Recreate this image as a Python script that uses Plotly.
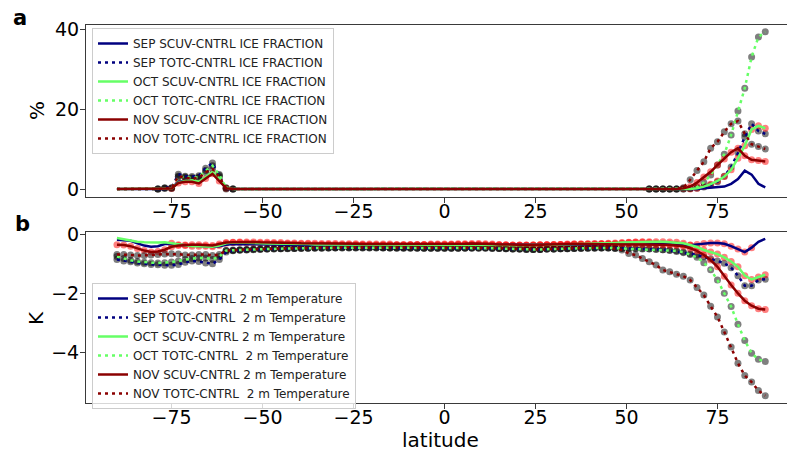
import plotly.graph_objects as go

# ---------------- data ----------------
# latitude grid (96 rows, 1.875 deg spacing)
LAT = [-90 + 1.875 * k for k in range(96)]
XTICKS = [-75, -50, -25, 0, 25, 50, 75]
ICE_TICKS = [0, 20, 40]
T_TICKS = [0, -2, -4]

# ---- ICE FRACTION (%) : south rows k0..k16, zeros k17..k82, north rows k83..k95
ICE_ZERO_MID = [0.0] * 66
ICE_SEP_SCUV_S = [0, 0, 0, 0, 0, 0, 0, 0, 0.2, 1.8, 2.0, 2.0, 1.6, 2.8, 4.0, 2.2, 0.3]
ICE_SEP_SCUV_N = [0, 0, 0, 0.2, 0.3, 0.4, 0.6, 1.3, 2.5, 4.6, 3.6, 1.3, 0.4]
ICE_SEP_TOTC_S = [0, 0, 0, 0, 0, 0, 0, 0.3, 0.3, 3.7, 3.2, 3.1, 3.3, 5.2, 6.5, 3.4, 0]
ICE_SEP_TOTC_N = [0, 0.1, 0.2, 0.5, 1.0, 1.8, 3.2, 5.5, 9.0, 13.0, 16.3, 14.5, 13.8]
ICE_OCT_SCUV_S = [0, 0, 0, 0, 0, 0, 0, 0, 0.1, 1.6, 2.0, 2.2, 1.8, 3.0, 4.3, 2.6, 0.4]
ICE_OCT_SCUV_N = [0, 0, 0.2, 0.6, 1.2, 2.0, 3.1, 4.8, 7.7, 10.8, 14.9, 15.8, 15.2]
ICE_OCT_TOTC_S = [0, 0, 0, 0, 0, 0, 0, 0.2, 0.2, 3.0, 3.0, 2.8, 3.0, 4.6, 5.8, 3.6, 0.3]
ICE_OCT_TOTC_N = [0, 0.1, 0.5, 1.6, 3.5, 6.0, 8.7, 13.5, 19.5, 25.2, 33.0, 38.0, 39.3]
ICE_NOV_SCUV_S = [0, 0, 0, 0, 0, 0, 0, 0, 0.1, 1.5, 1.8, 1.8, 1.4, 2.6, 3.8, 2.0, 0.2]
ICE_NOV_SCUV_N = [0.2, 0.6, 1.6, 3.0, 4.3, 6.0, 7.5, 9.2, 10.2, 8.3, 7.3, 7.1, 6.9]
ICE_NOV_TOTC_S = [0, 0, 0, 0, 0, 0, 0, 0.2, 0.2, 3.2, 2.8, 2.6, 2.8, 4.2, 5.0, 3.0, 0.2]
ICE_NOV_TOTC_N = [0.3, 2.3, 4.6, 6.8, 10.2, 11.8, 14.3, 16.3, 17.0, 13.8, 11.2, 10.6, 10.0]

# ---- 2 m Temperature (K): south k0..k16, mid k17..k71, north k72..k95
T_SEP_SCUV_S = [-0.18, -0.2, -0.22, -0.3, -0.38, -0.42, -0.4, -0.33, -0.32, -0.35, -0.36, -0.37, -0.38, -0.4, -0.42, -0.4, -0.35]
T_SEP_SCUV_M = [-0.33, -0.33, -0.33, -0.34, -0.34, -0.34, -0.35, -0.35, -0.35, -0.36,
                -0.36, -0.36, -0.36, -0.37, -0.37, -0.37, -0.37, -0.37, -0.37, -0.37,
                -0.37, -0.37, -0.37, -0.37, -0.37, -0.37, -0.36, -0.36, -0.36, -0.36,
                -0.36, -0.36, -0.35, -0.35, -0.35, -0.35, -0.36, -0.36, -0.37, -0.37,
                -0.37, -0.37, -0.37, -0.37, -0.37, -0.36, -0.36, -0.36, -0.35, -0.35,
                -0.35, -0.34, -0.34, -0.34, -0.33]
T_SEP_SCUV_N = [-0.33, -0.32, -0.3, -0.28, -0.27, -0.27, -0.28, -0.3, -0.32, -0.33, -0.34, -0.36,
                -0.37, -0.34, -0.31, -0.29, -0.29, -0.32, -0.4, -0.5, -0.6, -0.45, -0.25, -0.15]

T_SEP_TOTC_S = [-0.85, -0.9, -0.93, -0.97, -1.0, -1.02, -1.03, -1.05, -1.05, -1.02, -0.95, -0.9, -0.92, -0.97, -1.0, -0.85, -0.6]
T_SEP_TOTC_M = [-0.56, -0.54, -0.53, -0.52, -0.51, -0.5, -0.5, -0.49, -0.49, -0.48,
                -0.48, -0.47, -0.47, -0.47, -0.46, -0.46, -0.46, -0.46, -0.46, -0.46,
                -0.46, -0.46, -0.46, -0.46, -0.47, -0.47, -0.47, -0.47, -0.47, -0.47,
                -0.47, -0.47, -0.47, -0.47, -0.47, -0.47, -0.47, -0.47, -0.48, -0.48,
                -0.49, -0.5, -0.5, -0.51, -0.51, -0.51, -0.5, -0.5, -0.49, -0.49,
                -0.48, -0.48, -0.47, -0.47, -0.46]
T_SEP_TOTC_N = [-0.46, -0.46, -0.47, -0.47, -0.48, -0.48, -0.49, -0.5, -0.52, -0.55, -0.58, -0.62,
                -0.66, -0.7, -0.76, -0.83, -0.9, -0.98, -1.13, -1.4, -1.74, -1.74, -1.55, -1.52]

T_OCT_SCUV_S = [-0.12, -0.17, -0.22, -0.25, -0.27, -0.28, -0.28, -0.27, -0.3, -0.35, -0.38, -0.4, -0.4, -0.4, -0.42, -0.38, -0.3]
T_OCT_SCUV_M = [-0.28, -0.28, -0.29, -0.3, -0.3, -0.31, -0.31, -0.32, -0.32, -0.33,
                -0.33, -0.33, -0.34, -0.34, -0.34, -0.35, -0.35, -0.35, -0.35, -0.35,
                -0.36, -0.36, -0.36, -0.36, -0.36, -0.36, -0.36, -0.35, -0.35, -0.35,
                -0.35, -0.35, -0.35, -0.34, -0.34, -0.34, -0.34, -0.35, -0.35, -0.36,
                -0.36, -0.37, -0.37, -0.37, -0.36, -0.36, -0.35, -0.35, -0.34, -0.34,
                -0.33, -0.33, -0.32, -0.31, -0.31]
T_OCT_SCUV_N = [-0.3, -0.29, -0.28, -0.27, -0.26, -0.25, -0.25, -0.25, -0.25, -0.26, -0.27, -0.3,
                -0.36, -0.43, -0.53, -0.6, -0.67, -0.78, -0.92, -1.1, -1.4, -1.53, -1.45, -1.37]

T_OCT_TOTC_S = [-0.75, -0.82, -0.88, -0.92, -0.95, -0.96, -0.97, -0.96, -0.94, -0.9, -0.85, -0.82, -0.8, -0.8, -0.85, -0.75, -0.55]
T_OCT_TOTC_M = [-0.55, -0.53, -0.52, -0.51, -0.5, -0.5, -0.49, -0.49, -0.48, -0.48,
                -0.47, -0.47, -0.46, -0.46, -0.46, -0.45, -0.45, -0.45, -0.45, -0.45,
                -0.45, -0.45, -0.45, -0.46, -0.46, -0.46, -0.46, -0.46, -0.47, -0.47,
                -0.47, -0.47, -0.47, -0.47, -0.46, -0.46, -0.46, -0.46, -0.47, -0.48,
                -0.49, -0.5, -0.5, -0.51, -0.51, -0.51, -0.5, -0.5, -0.49, -0.49,
                -0.48, -0.47, -0.47, -0.46, -0.46]
T_OCT_TOTC_N = [-0.46, -0.47, -0.48, -0.48, -0.49, -0.5, -0.5, -0.51, -0.52, -0.53, -0.56, -0.6,
                -0.68, -0.78, -0.96, -1.2, -1.55, -2.0, -2.45, -3.05, -3.6, -4.03, -4.24, -4.31]

T_NOV_SCUV_S = [-0.35, -0.36, -0.4, -0.48, -0.55, -0.6, -0.58, -0.52, -0.42, -0.38, -0.36, -0.35, -0.35, -0.36, -0.38, -0.33, -0.28]
T_NOV_SCUV_M = [-0.27, -0.26, -0.26, -0.26, -0.27, -0.27, -0.28, -0.28, -0.29, -0.29,
                -0.3, -0.3, -0.3, -0.31, -0.31, -0.31, -0.32, -0.32, -0.32, -0.33,
                -0.33, -0.33, -0.33, -0.33, -0.34, -0.34, -0.34, -0.34, -0.34, -0.33,
                -0.33, -0.33, -0.33, -0.32, -0.32, -0.31, -0.31, -0.32, -0.33, -0.34,
                -0.35, -0.36, -0.36, -0.36, -0.36, -0.35, -0.35, -0.34, -0.34, -0.33,
                -0.33, -0.33, -0.33, -0.33, -0.33]
T_NOV_SCUV_N = [-0.33, -0.33, -0.33, -0.33, -0.33, -0.34, -0.34, -0.35, -0.35, -0.36, -0.37, -0.4,
                -0.47, -0.56, -0.7, -0.87, -1.1, -1.42, -1.72, -2.0, -2.25, -2.42, -2.52, -2.55]

T_NOV_TOTC_S = [-0.68, -0.68, -0.7, -0.72, -0.72, -0.7, -0.68, -0.67, -0.66, -0.67, -0.7, -0.7, -0.68, -0.68, -0.72, -0.68, -0.55]
T_NOV_TOTC_M = [-0.53, -0.52, -0.51, -0.5, -0.5, -0.49, -0.48, -0.48, -0.47, -0.47,
                -0.46, -0.46, -0.45, -0.45, -0.45, -0.45, -0.44, -0.44, -0.44, -0.44,
                -0.44, -0.44, -0.45, -0.45, -0.45, -0.45, -0.45, -0.46, -0.46, -0.46,
                -0.46, -0.46, -0.46, -0.46, -0.46, -0.45, -0.45, -0.45, -0.46, -0.47,
                -0.48, -0.49, -0.5, -0.5, -0.51, -0.51, -0.5, -0.5, -0.49, -0.48,
                -0.47, -0.46, -0.45, -0.45, -0.45]
T_NOV_TOTC_N = [-0.45, -0.48, -0.53, -0.65, -0.7, -0.82, -0.93, -1.04, -1.21, -1.27, -1.35, -1.42,
                -1.55, -1.8, -2.06, -2.44, -2.8, -3.31, -3.82, -4.37, -4.79, -5.01, -5.3, -5.47]

# rows flagged with markers (significance) per series
ALL_ROWS = list(range(96))
ICE_TOTC_SIG = list(range(6, 18)) + list(range(78, 96))
ICE_NOV_SCUV_SIG = list(range(8, 17)) + list(range(83, 96))
ICE_OCT_SCUV_SIG = list(range(84, 96))
T_OCT_SCUV_SIG = list(range(8, 96))
T_SEP_SCUV_SIG = list(range(30, 94))

# ---------------- build ----------------
ice = {
    "SEP SCUV": ICE_SEP_SCUV_S + ICE_ZERO_MID + ICE_SEP_SCUV_N,
    "SEP TOTC": ICE_SEP_TOTC_S + ICE_ZERO_MID + ICE_SEP_TOTC_N,
    "OCT SCUV": ICE_OCT_SCUV_S + ICE_ZERO_MID + ICE_OCT_SCUV_N,
    "OCT TOTC": ICE_OCT_TOTC_S + ICE_ZERO_MID + ICE_OCT_TOTC_N,
    "NOV SCUV": ICE_NOV_SCUV_S + ICE_ZERO_MID + ICE_NOV_SCUV_N,
    "NOV TOTC": ICE_NOV_TOTC_S + ICE_ZERO_MID + ICE_NOV_TOTC_N,
}
tmp = {
    "SEP SCUV": T_SEP_SCUV_S + T_SEP_SCUV_M + T_SEP_SCUV_N,
    "SEP TOTC": T_SEP_TOTC_S + T_SEP_TOTC_M + T_SEP_TOTC_N,
    "OCT SCUV": T_OCT_SCUV_S + T_OCT_SCUV_M + T_OCT_SCUV_N,
    "OCT TOTC": T_OCT_TOTC_S + T_OCT_TOTC_M + T_OCT_TOTC_N,
    "NOV SCUV": T_NOV_SCUV_S + T_NOV_SCUV_M + T_NOV_SCUV_N,
    "NOV TOTC": T_NOV_TOTC_S + T_NOV_TOTC_M + T_NOV_TOTC_N,
}
for d in (ice, tmp):
    for k, v in d.items():
        assert len(v) == 96, (k, len(v))

COLORS = {"SEP": "#000080", "OCT": "#66ff66", "NOV": "#8b0000"}
GREY = "rgba(0,0,0,0.5)"
RED = "rgba(255,0,0,0.5)"

ice_sig = {
    "SEP SCUV": [], "SEP TOTC": ICE_TOTC_SIG, "OCT SCUV": ICE_OCT_SCUV_SIG,
    "OCT TOTC": ICE_TOTC_SIG, "NOV SCUV": ICE_NOV_SCUV_SIG, "NOV TOTC": ICE_TOTC_SIG,
}
tmp_sig = {
    "SEP SCUV": T_SEP_SCUV_SIG, "SEP TOTC": ALL_ROWS, "OCT SCUV": T_OCT_SCUV_SIG,
    "OCT TOTC": ALL_ROWS, "NOV SCUV": ALL_ROWS, "NOV TOTC": ALL_ROWS,
}

fig = go.Figure()
W, H = 787, 452
FONT = "DejaVu Sans"

def add_panel(data, sig, xa, ya, legend, suffix):
    # markers first (drawn beneath lines)
    for name, vals in data.items():
        idx = sig[name]
        if not idx:
            continue
        col = GREY if "TOTC" in name else RED
        fig.add_trace(go.Scatter(
            x=[LAT[i] for i in idx], y=[vals[i] for i in idx], mode="markers",
            marker=dict(size=7, color=col, line=dict(width=0)),
            xaxis=xa, yaxis=ya, showlegend=False, hoverinfo="skip"))
    for name, vals in data.items():
        mon, exp = name.split()
        sep = " " if exp == "SCUV" or suffix.startswith("ICE") else "\u00a0 "
        label = f"{mon} {exp}-CNTRL{sep}{suffix}"
        fig.add_trace(go.Scatter(
            x=LAT, y=vals, mode="lines", name=label,
            line=dict(color=COLORS[mon], width=2.5,
                      dash="solid" if exp == "SCUV" else "3px,4px"),
            xaxis=xa, yaxis=ya, legend=legend))

add_panel(ice, ice_sig, "x", "y", "legend", "ICE FRACTION")
add_panel(tmp, tmp_sig, "x2", "y2", "legend2", "2 m Temperature")

def px(x):
    return x / W

def py(y):
    return 1 - y / H

axis_common = dict(showgrid=False, zeroline=False, showline=True, linecolor="#3a3a3a",
                   linewidth=1, ticks="outside", ticklen=5, tickwidth=1, tickcolor="#3a3a3a",
                   automargin=False,
                   tickfont=dict(family=FONT, size=19, color="black"))
xaxis_common = dict(axis_common, ticklabelstandoff=-8)
yaxis_common = dict(axis_common, ticklabelstandoff=-3)
xr = [-98.5, 94.1]

def ann(text, x, y, size, angle=0):
    return dict(text=text, x=px(x), y=py(y), xref="paper", yref="paper", showarrow=False,
                xanchor="center", yanchor="middle", textangle=angle, borderpad=0,
                font=dict(family=FONT, size=size, color="black"))

legend_common = dict(xanchor="left", yanchor="top", bgcolor="rgba(255,255,255,0.8)",
                     bordercolor="#cccccc", borderwidth=1, tracegroupgap=0,
                     font=dict(family=FONT, size=12, color="#222222"))

fig.update_layout(
    template="none",
    width=W, height=H, margin=dict(l=0, r=0, t=0, b=0, pad=0, autoexpand=False),
    paper_bgcolor="white", plot_bgcolor="white",
    font=dict(family=FONT, color="black"),
    xaxis=dict(domain=[px(86), 1.0], range=xr, tickvals=XTICKS, anchor="y", mirror=True, **xaxis_common),
    xaxis2=dict(domain=[px(86), 1.0], range=xr, tickvals=XTICKS, anchor="y2", mirror=True, **xaxis_common),
    yaxis=dict(domain=[py(197), py(25)], range=[-2.0, 41.0], tickvals=ICE_TICKS, anchor="x", **yaxis_common),
    yaxis2=dict(domain=[py(403), py(232)], range=[-5.72, 0.08], tickvals=T_TICKS, anchor="x2", **yaxis_common),
    legend=dict(x=px(92), y=py(28), **legend_common),
    legend2=dict(x=px(92), y=py(283), **legend_common),
    showlegend=True,
    annotations=[
        ann("<b>a</b>", 20, 18, 21),
        ann("<b>b</b>", 22, 224, 21),
        ann("%", 37, 111, 20, -90),
        ann("K", 36, 318, 20, -90),
        ann("latitude", 441, 439.5, 20),
    ],
)

fig.write_html("out.html", config={"displayModeBar": False},
               post_script="document.body.style.margin='0';")
